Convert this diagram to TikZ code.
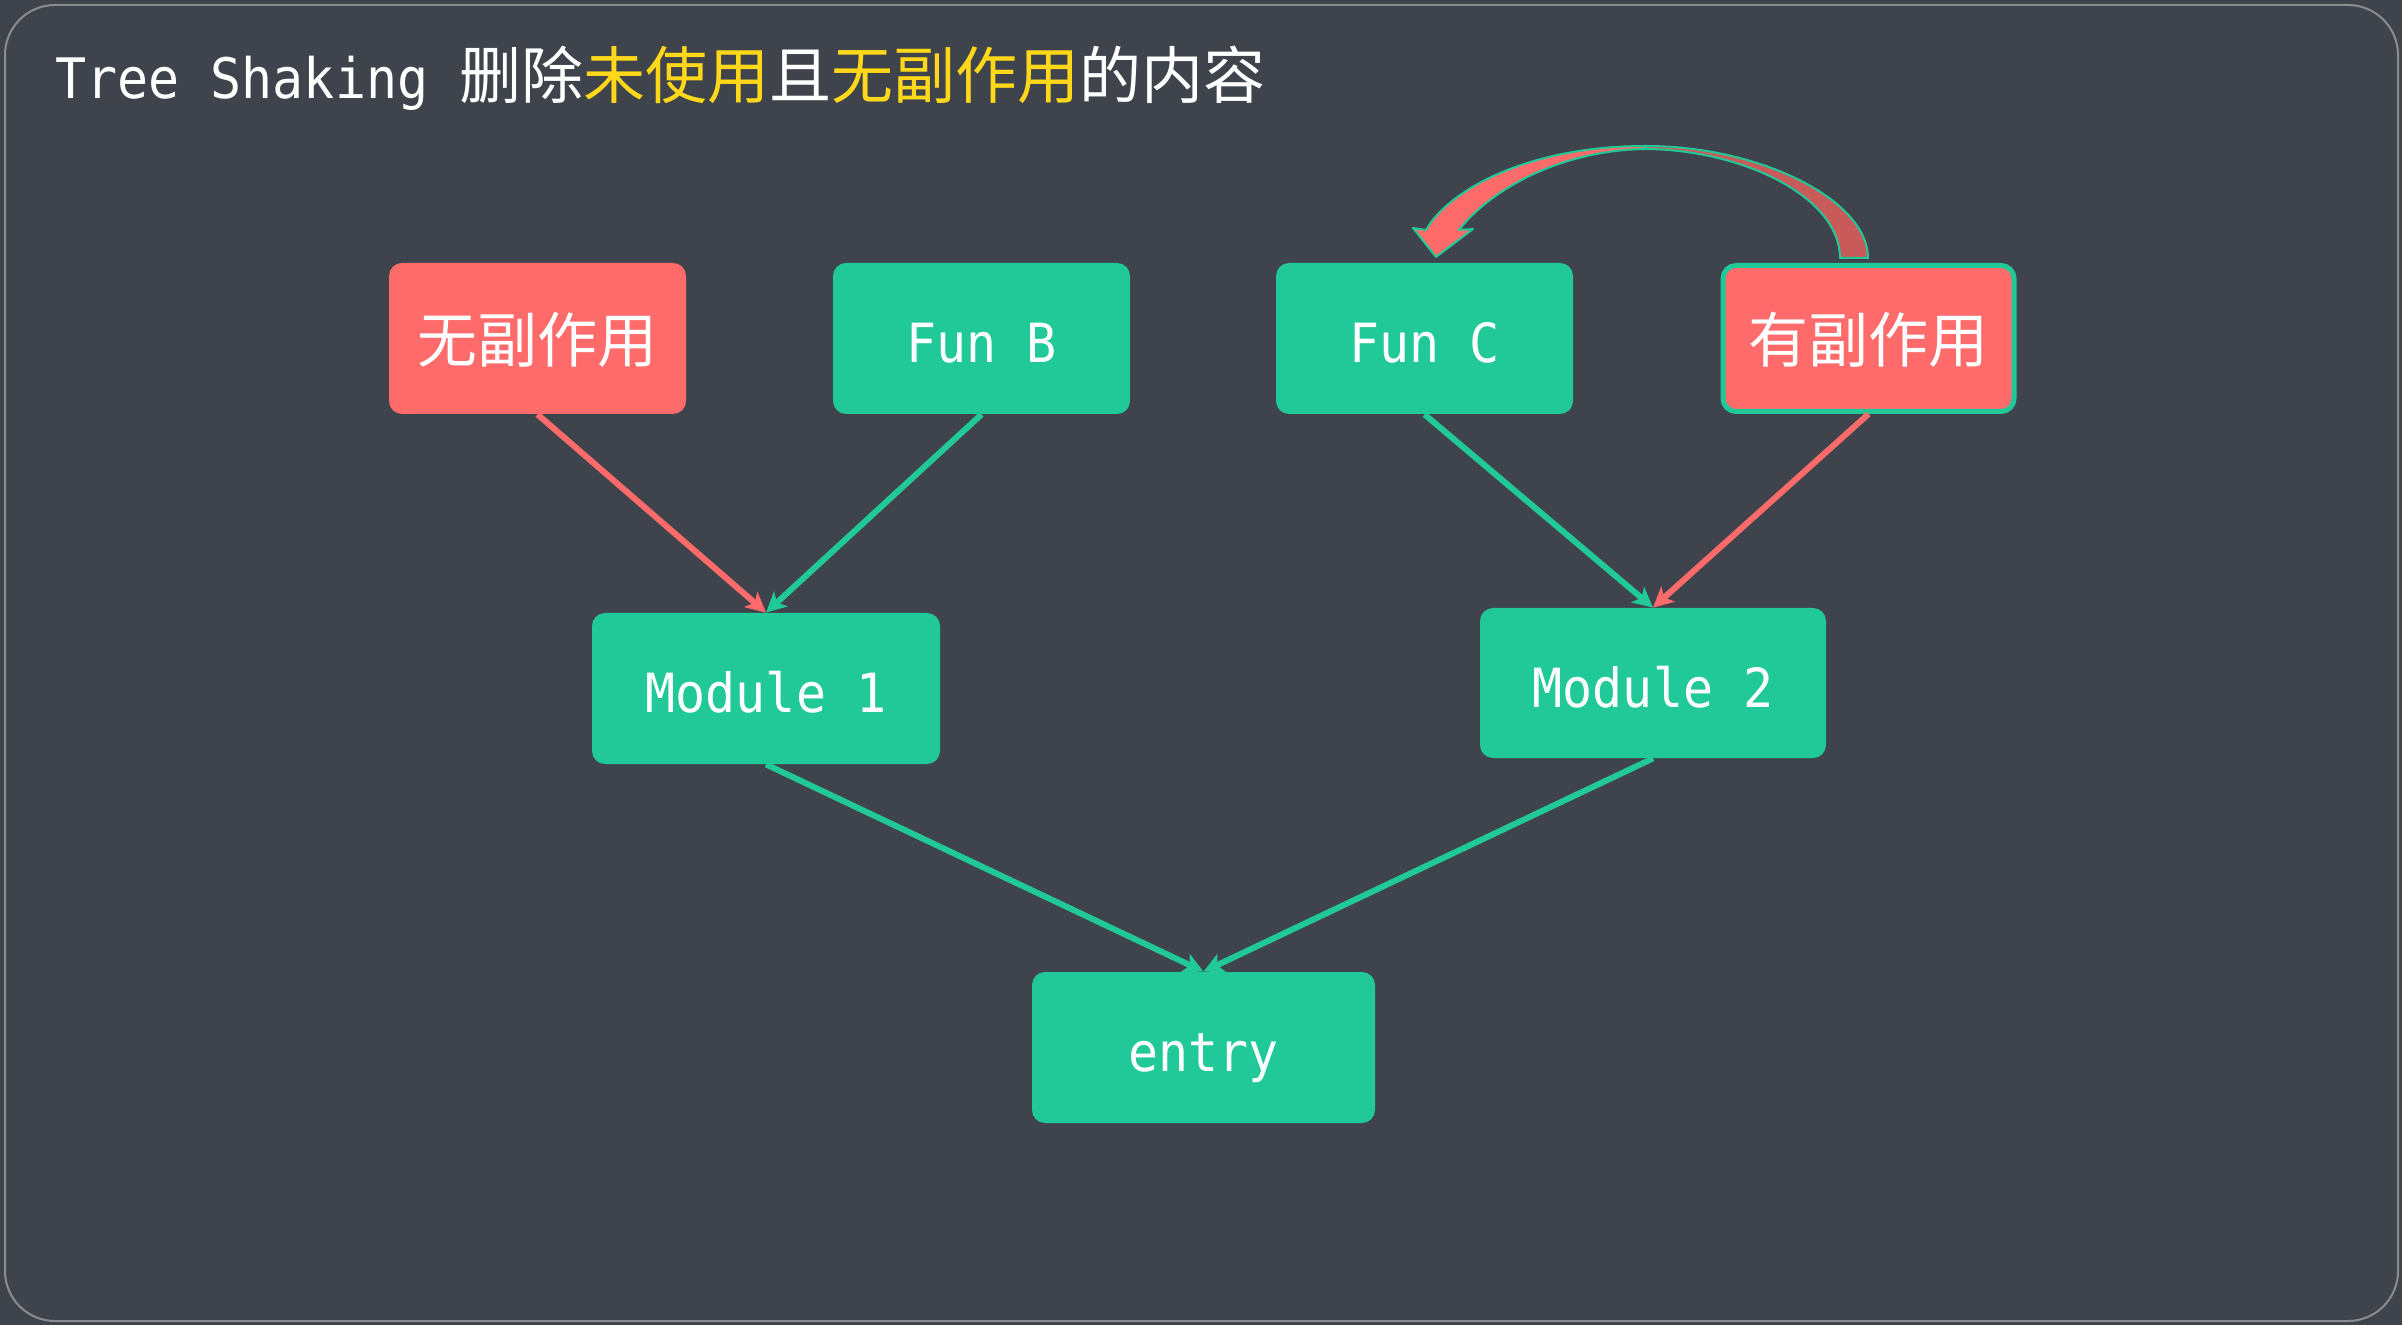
\documentclass[tikz,border=0pt]{standalone}
\usepackage{fontspec}
\setmainfont{DejaVu Sans Mono}[Scale=0.9,FakeStretch=0.925]
\newfontfamily\cjk{Noto Sans CJK SC}
\usetikzlibrary{arrows.meta}
\definecolor{bgc}{HTML}{3F434B}
\definecolor{grn}{HTML}{20C997}
\definecolor{rd}{HTML}{FF6B6B}
\definecolor{drd}{HTML}{C85A5A}
\definecolor{ylw}{HTML}{FFD81A}
\definecolor{frm}{HTML}{8A8C90}
\tikzset{
  box/.style={rounded corners=6.5pt, text=white, font=\fontsize{30}{36}\selectfont,
    minimum width=148.5pt, minimum height=75.5pt, inner sep=0pt,
    text height=26pt, text depth=2pt},
  gbox/.style={box, fill=grn},
  rbox/.style={box, fill=rd},
  conn/.style={line width=3pt, -{Stealth[length=10pt,width=10pt,inset=2.5pt]}},
  gconn/.style={conn, draw=grn},
  rconn/.style={conn, draw=rd},
}
\begin{document}
\begin{tikzpicture}[x=0.5pt,y=-0.5pt]
\fill[bgc] (0,0) rectangle (2402,1325);
\useasboundingbox (0,0) rectangle (2402,1325);
\draw[frm, line width=1pt, rounded corners=25pt] (5,5) rectangle (2398,1321);

\node[anchor=base west, text=white, inner sep=0pt, font=\fontsize{31}{37}\selectfont] (title) at (55,99)
  {Tree Shaking {\cjk 删除\textcolor{ylw}{未使用}且\textcolor{ylw}{无副作用}的内容}};

% curved arrow (back part)
\filldraw[fill=drd, draw=grn, line width=1pt]
  (1646,146) .. controls (1760,146) and (1868,200) .. (1868,258)
  -- (1840,258) .. controls (1840,198) and (1745,150) .. (1646,149) -- cycle;
% curved arrow (front part with head)
\filldraw[fill=rd, draw=grn, line width=1pt, line join=round]
  (1646,146) .. controls (1520,146) and (1445,195) .. (1426,230)
  -- (1413,228) -- (1436,257) -- (1473,229) -- (1459,230)
  .. controls (1490,190) and (1560,150) .. (1646,149) -- cycle;

\node[rbox] (nse) at (537.5,338.5) {\cjk 无副作用};
\node[gbox] (funb) at (981.5,338.5) {Fun B};
\node[gbox] (func) at (1424.5,338.5) {Fun C};
\node[rbox, draw=grn, line width=2.5pt, minimum width=145.5pt, minimum height=73pt] (hse) at (1868.5,338.5) {\cjk 有副作用};
\node[gbox, minimum width=174pt] (m1) at (766,688.5) {Module 1};
\node[gbox, minimum width=173pt, minimum height=75pt] (m2) at (1653,683) {Module 2};
\node[gbox, minimum width=171.5pt] (entry) at (1203.5,1047.5) {entry};

\draw[rconn] (nse.south) -- (m1.north);
\draw[gconn] (funb.south) -- (m1.north);
\draw[gconn] (func.south) -- (m2.north);
\draw[rconn] (hse.south) -- (m2.north);
\draw[gconn] (m1.south) -- (entry.north);
\draw[gconn] (m2.south) -- (entry.north);
\end{tikzpicture}
\end{document}
